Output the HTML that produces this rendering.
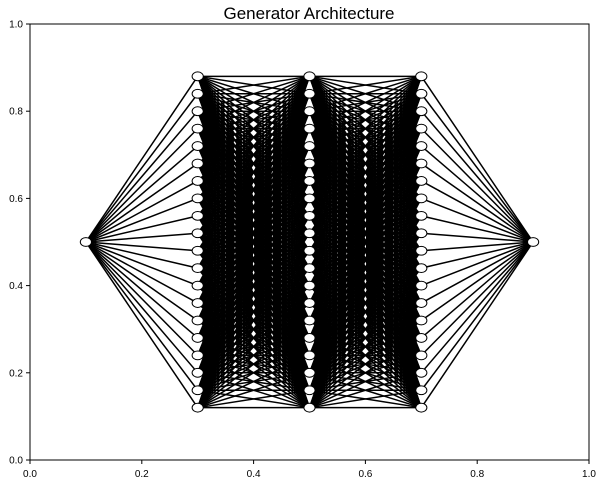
<!DOCTYPE html>
<html><head><meta charset="utf-8"><style>
body{margin:0;background:#fff;}
svg{display:block;font-family:"Liberation Sans",sans-serif;}
</style></head><body>
<svg id="chart" width="603" height="484">
<text x="309" y="19" text-anchor="middle" font-size="17">Generator Architecture</text>
<g id="edges"></g>
<g id="nodes"></g>
<rect x="30" y="24" width="559" height="436" fill="none" stroke="#000" stroke-width="1"/>
<g id="axes"></g>
</svg>
<script>
const layerSizes=[1,20,20,20,1];
const layerX=[0.1,0.3,0.5,0.7,0.9];
const xTicks=["0.0","0.2","0.4","0.6","0.8","1.0"];
const yTicks=["0.0","0.2","0.4","0.6","0.8","1.0"];
const spacing=0.04, center=0.5;
const X=v=>30+v*559, Y=v=>460-v*436;
const NS="http://www.w3.org/2000/svg";
const edges=document.getElementById('edges'),nodes=document.getElementById('nodes'),axes=document.getElementById('axes');
function ys(n){const top=center+spacing*(n-1)/2;const a=[];for(let i=0;i<n;i++)a.push(top-i*spacing);return a;}
for(let l=0;l<layerSizes.length-1;l++){
  const a=ys(layerSizes[l]),b=ys(layerSizes[l+1]);
  a.forEach(y1=>b.forEach(y2=>{
    const e=document.createElementNS(NS,'line');
    e.setAttribute('x1',X(layerX[l]));e.setAttribute('y1',Y(y1));
    e.setAttribute('x2',X(layerX[l+1]));e.setAttribute('y2',Y(y2));
    e.setAttribute('stroke','#000');e.setAttribute('stroke-width','1.5');
    
    
    edges.appendChild(e);
  }));
}
layerSizes.forEach((n,l)=>{
  ys(n).forEach(y=>{
    const c=document.createElementNS(NS,'ellipse');
    c.setAttribute('cx',X(layerX[l]));c.setAttribute('cy',Y(y));
    c.setAttribute('rx',5.6);c.setAttribute('ry',4.4);
    c.setAttribute('fill','#fff');c.setAttribute('stroke','#000');c.setAttribute('stroke-width','1');
    
    
    nodes.appendChild(c);
  });
});
xTicks.forEach((t,i)=>{
  const v=parseFloat(t);
  const l=document.createElementNS(NS,'line');
  l.setAttribute('x1',X(v));l.setAttribute('x2',X(v));l.setAttribute('y1',460);l.setAttribute('y2',464);l.setAttribute('stroke','#000');
  
  
  axes.appendChild(l);
  const tx=document.createElementNS(NS,'text');
  tx.setAttribute('x',X(v));tx.setAttribute('y',477);tx.setAttribute('text-anchor','middle');tx.setAttribute('font-size','10');
  tx.textContent=t;
  
  
  axes.appendChild(tx);
});
yTicks.forEach((t,i)=>{
  const v=parseFloat(t);
  const l=document.createElementNS(NS,'line');
  l.setAttribute('x1',26);l.setAttribute('x2',30);l.setAttribute('y1',Y(v));l.setAttribute('y2',Y(v));l.setAttribute('stroke','#000');
  
  
  axes.appendChild(l);
  const tx=document.createElementNS(NS,'text');
  tx.setAttribute('x',23);tx.setAttribute('y',Y(v)+3.5);tx.setAttribute('text-anchor','end');tx.setAttribute('font-size','10');
  tx.textContent=t;
  
  
  axes.appendChild(tx);
});
</script>
</body></html>
